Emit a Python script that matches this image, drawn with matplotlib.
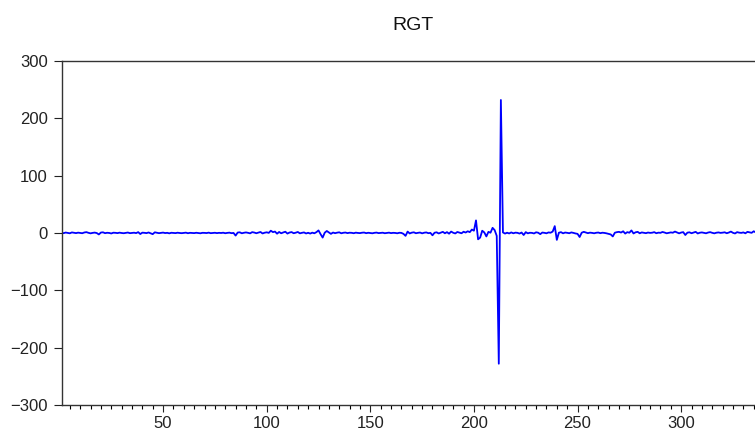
import matplotlib
matplotlib.use("Agg")
import matplotlib.pyplot as plt
from matplotlib.ticker import MultipleLocator

plt.rcParams["font.family"] = ["Liberation Sans", "DejaVu Sans"]

rgt = [
    0.5, -0.3, 0.8, 0.2, -0.5, 1.0, 0.4, -0.2, 0.6, 0.1, -0.4, 0.9, 1.5, 0.3, -0.6, 0.2, 0.7, -0.1, -2.5, 0.8,
    1.2, -0.3, 0.4, 0.1, -0.8, 0.5, 0.3, -0.2, 0.6, 0.0, -0.4, 0.2, 0.8, -0.3, 0.1, 0.5, -0.2, 1.5, -1.8, 0.6,
    0.3, -0.2, 0.9, -0.5, -2.0, 1.2, 0.4, -0.3, 0.2, 0.7, -0.1, 0.3, -0.6, 0.4, 0.1, -0.2, 0.5, 0.0, -0.3, 0.2,
    0.6, -0.4, 0.3, 0.1, -0.2, 0.4, 0.0, -0.5, 0.3, 0.2, -0.1, 0.6, -0.3, 0.1, 0.4, -0.2, 0.3, 0.0, 0.5, -0.4,
    0.2, 0.6, -0.3, 0.1, -4.5, 0.8, 1.2, -0.5, 0.4, 1.0, 0.3, -0.6, 1.5, 0.8, -0.4, 0.6, 1.8, -0.8, 0.5, 1.2,
    0.2, 4.0, 1.5, 2.5, -1.2, 1.8, -0.5, 1.0, 2.2, -1.0, 0.8, 1.6, -0.4, 0.5, 1.8, -0.6, 0.3, 1.0, -0.8, 0.4,
    -1.0, 0.6, -0.5, 1.5, 4.5, -2.0, -8.0, 0.5, 3.5, 1.0, -1.5, 0.8, -0.3, 0.6, 1.2, -0.5, 0.4, 0.8, -0.2, 0.5,
    0.3, -0.4, 0.6, 0.1, -0.2, 0.5, 0.8, -0.3, 0.4, 0.0, -0.5, 0.3, 0.7, -0.2, 0.2, 0.5, -0.4, 0.1, 0.6, -0.2,
    0.3, 0.1, -0.5, 0.4, 0.2, -1.5, -5.0, 2.5, -0.8, 0.6, 1.2, -0.4, 0.3, 0.8, -0.6, 0.5, 1.0, -0.3, 0.2, -4.0,
    0.5, 1.2, -0.8, 0.6, 2.0, -0.5, 1.5, -1.2, 2.5, 0.4, -0.8, 1.8, 0.6, -0.5, 2.2, 0.8, 3.0, 1.5, 6.0, 4.0,
    22.0, -11.0, -8.0, 4.0, 1.0, -6.0, 2.0, 0.5, 9.0, 5.0, -5.0, -228.0, 232.0, 1.0, -1.0, 0.5, -0.8, 1.0, -0.5, 0.6,
    0.3, -1.0, 0.8, -3.5, 1.5, -0.6, 0.4, 0.2, -0.8, 1.2, 0.5, -2.0, 0.8, 0.3, -0.5, 1.0, 0.5, 2.5, 12.0, -12.0,
    0.5, 1.5, -0.6, 0.8, 0.3, -0.4, 1.0, 0.2, -0.8, -1.5, -7.0, 0.5, 2.0, 0.8, -0.3, 0.6, 0.2, -0.5, 0.4, 0.8,
    -0.3, 0.5, 0.1, -0.6, -1.5, -2.5, -6.0, 0.5, 1.5, 2.0, 0.8, 3.0, -1.0, 1.5, 0.5, 4.5, -0.8, 1.2, 2.0, -0.5,
    1.0, 0.4, -0.3, 0.8, 0.2, 0.5, 1.5, -0.4, 0.6, 0.3, 1.8, 0.8, -0.5, 0.2, 1.0, 0.5, 2.5, 1.0, -0.6, 0.8,
    1.5, -3.5, 0.6, 1.2, -0.4, 0.8, 2.0, -0.8, 0.5, 1.0, 0.2, -0.5, 0.8, 1.5, 0.3, -0.6, 0.5, 1.0, 0.2, 0.6,
    1.2, -0.4, 0.8, 2.5, 0.3, -0.8, 1.5, 0.6, 0.2, 1.0, -0.5, 2.0, 1.2, 0.3, 3.0, 1.0,
]
obs = list(range(1, len(rgt) + 1))

fig = plt.figure(figsize=(7.55, 4.32), dpi=100)
ax = fig.add_axes([0.0815, 0.0625, 0.9305, 0.7963])

ax.plot(obs, rgt, color="#0000ff", linewidth=1.3)

ax.set_xlim(1, 340)
ax.set_ylim(-300, 300)
ax.xaxis.set_major_locator(MultipleLocator(50))
ax.xaxis.set_minor_locator(MultipleLocator(5))
ax.yaxis.set_major_locator(MultipleLocator(100))

for side in ["left", "top", "bottom"]:
    ax.spines[side].set_color("#333333")
    ax.spines[side].set_linewidth(1.0)
ax.spines["right"].set_visible(False)

ax.tick_params(axis="y", direction="out", length=6, width=0.8, pad=4, labelsize=12, colors="#222222")
ax.tick_params(axis="x", which="major", direction="out", length=5, width=0.8, pad=3, labelsize=12, colors="#222222")
ax.tick_params(axis="x", which="minor", direction="out", length=3, width=0.8)

ax.set_title("RGT", fontsize=14, pad=22, color="#111111")

fig.savefig("out.png", dpi=100)
